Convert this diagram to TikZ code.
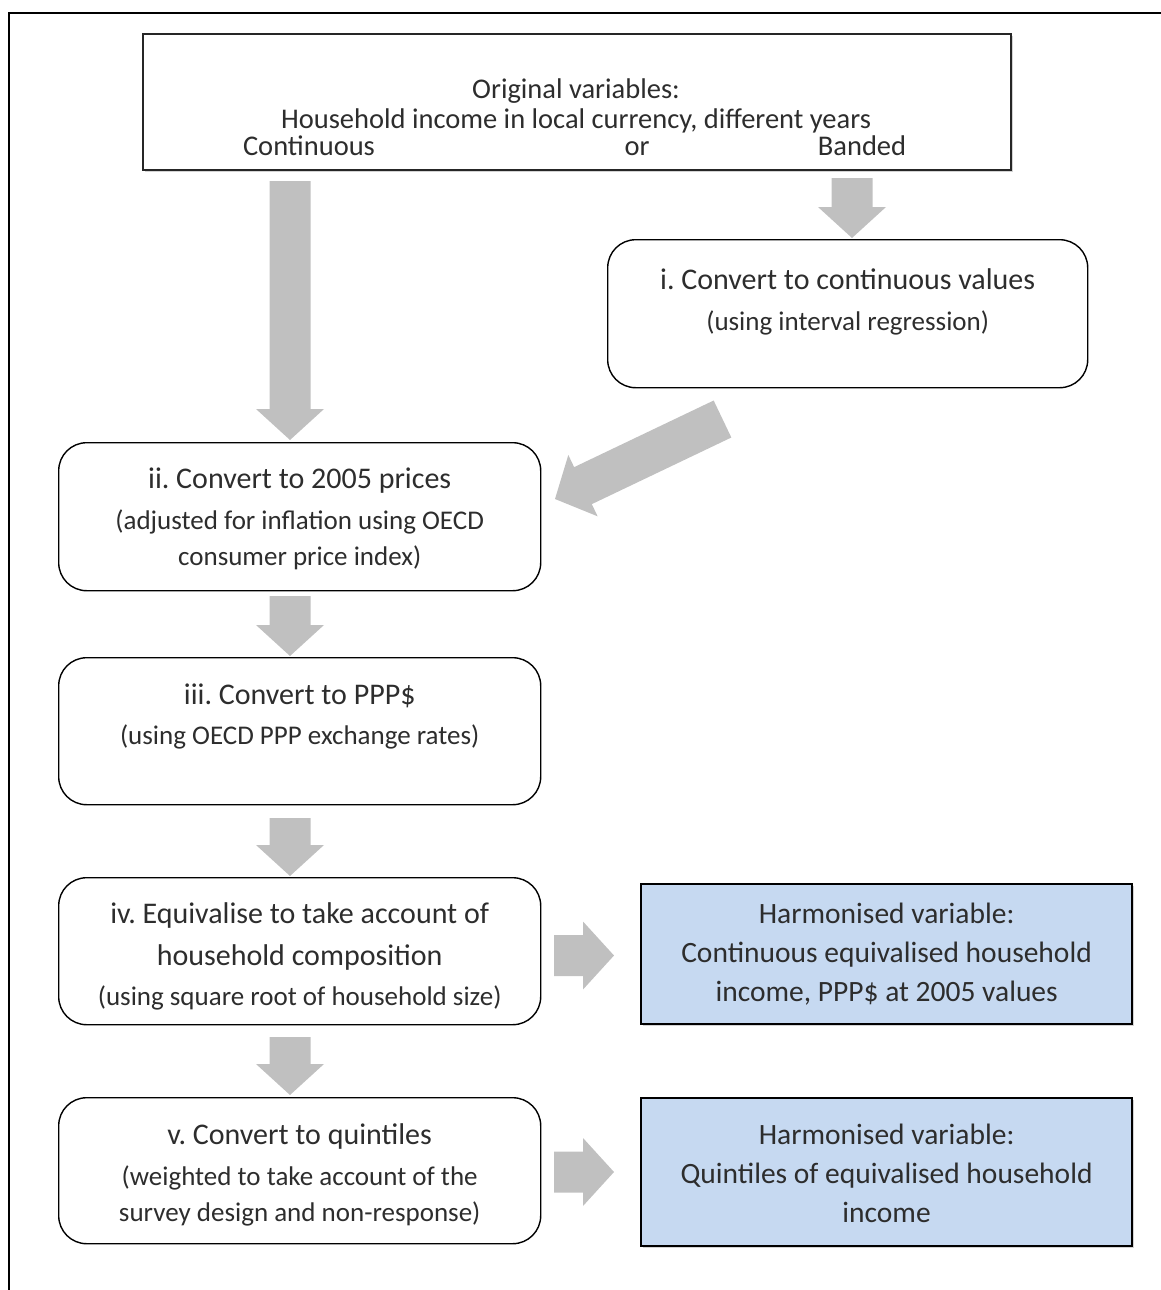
\documentclass[tikz,border=0pt]{standalone}
\usepackage{fontspec}
\setmainfont{Carlito}
\frenchspacing
\usetikzlibrary{calc,shadows}
\definecolor{arrowfill}{RGB}{192,192,192}
\definecolor{harmfill}{RGB}{198,217,241}
\definecolor{txt}{RGB}{45,45,45}
\newcommand\blockarrow[2]{%
  \coordinate (ba-h) at ($(#2)!31pt!(#1)$);
  \fill[arrowfill] ($(#1)!20.5pt!90:(#2)$) -- ($(ba-h)!20.5pt!90:(#2)$) -- ($(ba-h)!34pt!90:(#2)$) -- (#2)
    -- ($(ba-h)!34pt!-90:(#2)$) -- ($(ba-h)!20.5pt!-90:(#2)$) -- ($(#1)!20.5pt!-90:(#2)$) -- cycle;}
\tikzset{
  stepbox/.style={draw=black, line width=1.4pt, rounded corners=28pt, inner sep=0pt, anchor=north west},
  topbox/.style={draw=black!85, fill=white, line width=2.2pt, inner sep=0pt, anchor=north west,
    drop shadow={opacity=0.35, shadow xshift=2pt, shadow yshift=-2pt}},
  harmbox/.style={draw=black, fill=harmfill, line width=2.2pt, inner sep=0pt, anchor=north west,
    drop shadow={opacity=0.35, shadow xshift=2pt, shadow yshift=-2pt}},
  head/.style={anchor=base, inner sep=0pt, text=txt, font=\fontsize{30}{36}\selectfont},
  sub/.style={anchor=base, inner sep=0pt, text=txt, font=\fontsize{27}{32}\selectfont},
  toptxt/.style={anchor=base, inner sep=0pt, text=txt, font=\fontsize{28.5}{34}\selectfont},
  harmtxt/.style={anchor=base, inner sep=0pt, text=txt, font=\fontsize{29.5}{35}\selectfont},
}
\begin{document}
\begin{tikzpicture}[x=1pt,y=-1pt]
\useasboundingbox (0,0) rectangle (1161,1290);
% outer frame
\draw[line width=1.6pt, black] (9,1290) -- (9,13) -- (1161,13);

% boxes
\node[topbox, minimum width=868pt, minimum height=136pt] (top) at (142,33) {};
\node[stepbox, minimum width=480pt, minimum height=148pt] (bi) at (607,239) {};
\node[stepbox, minimum width=482pt, minimum height=148pt] (bii) at (58,442) {};
\node[stepbox, minimum width=482pt, minimum height=147pt] (biii) at (58,657) {};
\node[stepbox, minimum width=482pt, minimum height=147pt] (biv) at (58,877) {};
\node[stepbox, minimum width=482pt, minimum height=146pt] (bv) at (58,1097) {};
\node[harmbox, minimum width=491pt, minimum height=140pt] (h1) at (640,883) {};
\node[harmbox, minimum width=491pt, minimum height=148pt] (h2) at (640,1097) {};

% texts
\node[toptxt] (t1) at (576,99) {Original variables:};
\node[toptxt] (t2) at (576,128) {Household income in local currency, different years};
\node[toptxt] (t3) at (309,155) {Continuous};
\node[toptxt] (t4) at (637,155) {or};
\node[toptxt] (t5) at (862,155) {Banded};

\node[head] (i1) at (bi.north |- 0,289) {i. Convert to continuous values};
\node[sub] (i2) at (bi.north |- 0,330) {(using interval regression)};

\node[head] (ii1) at (bii.north |- 0,488) {ii. Convert to 2005 prices};
\node[sub] (ii2) at (bii.north |- 0,529) {(adjusted for inflation using OECD};
\node[sub] (ii3) at (bii.north |- 0,565) {consumer price index)};

\node[head] (iii1) at (biii.north |- 0,704) {iii. Convert to PPP\$};
\node[sub] (iii2) at (biii.north |- 0,744) {(using OECD PPP exchange rates)};

\node[head] (iv1) at (biv.north |- 0,923) {iv. Equivalise to take account of};
\node[head] (iv2) at (biv.north |- 0,965) {household composition};
\node[sub] (iv3) at (biv.north |- 0,1005) {(using square root of household size)};

\node[head] (v1) at (bv.north |- 0,1144) {v. Convert to quintiles};
\node[sub] (v2) at (bv.north |- 0,1185) {(weighted to take account of the};
\node[sub] (v3) at (bv.north |- 0,1221) {survey design and non-response)};

\node[harmtxt] (h11) at (h1.north |- 0,923) {Harmonised variable:};
\node[harmtxt] (h12) at (h1.north |- 0,962) {Continuous equivalised household};
\node[harmtxt] (h13) at (h1.north |- 0,1001) {income, PPP\$ at 2005 values};

\node[harmtxt] (h21) at (h2.north |- 0,1144) {Harmonised variable:};
\node[harmtxt] (h22) at (h2.north |- 0,1183) {Quintiles of equivalised household};
\node[harmtxt] (h23) at (h2.north |- 0,1222) {income};

% arrow end points
\coordinate (a1s) at (290,181);  \coordinate (a1e) at (290,440);
\coordinate (a2s) at (852,178);  \coordinate (a2e) at (852,238);
\coordinate (a3s) at (722.5,419); \coordinate (a3e) at (555,499);
\coordinate (a4s) at (290,596);  \coordinate (a4e) at (290,656);
\coordinate (a5s) at (290,818);  \coordinate (a5e) at (290,876);
\coordinate (a6s) at (290,1037); \coordinate (a6e) at (290,1095);
\coordinate (a7s) at (554,955.5); \coordinate (a7e) at (614,955.5);
\coordinate (a8s) at (554,1172); \coordinate (a8e) at (614,1172);

\blockarrow{a1s}{a1e}
\blockarrow{a2s}{a2e}
\blockarrow{a3s}{a3e}
\blockarrow{a4s}{a4e}
\blockarrow{a5s}{a5e}
\blockarrow{a6s}{a6e}
\blockarrow{a7s}{a7e}
\blockarrow{a8s}{a8e}
\end{tikzpicture}
\end{document}
